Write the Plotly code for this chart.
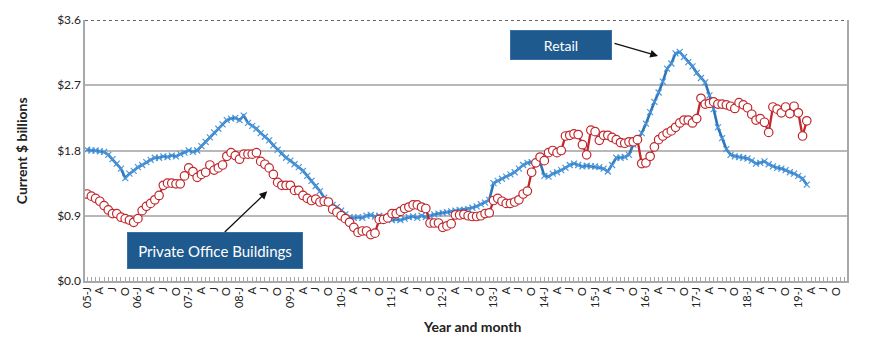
import plotly.graph_objects as go

# ---- data (US$ billions, monthly, Jan 2005 - Mar 2019) ----
years = list(range(2005, 2020))
quarter_letters = {0: "J", 3: "A", 6: "J", 9: "O"}

retail = [
    1.81, 1.80, 1.80, 1.79, 1.78, 1.74, 1.68, 1.62, 1.55, 1.42, 1.48, 1.52,
    1.57, 1.60, 1.64, 1.67, 1.70, 1.70, 1.72, 1.71, 1.73, 1.72, 1.75, 1.77,
    1.80, 1.78, 1.80, 1.86, 1.92, 1.98, 2.05, 2.10, 2.16, 2.22, 2.24, 2.25,
    2.22, 2.28, 2.18, 2.14, 2.10, 2.04, 1.99, 1.94, 1.87, 1.81, 1.76, 1.70,
    1.66, 1.61, 1.57, 1.52, 1.45, 1.38, 1.31, 1.24, 1.15, 1.10, 1.05, 1.02,
    0.97, 0.92, 0.88, 0.87, 0.88, 0.87, 0.90, 0.91, 0.89, 0.90, 0.88, 0.86,
    0.84, 0.85, 0.84, 0.86, 0.88, 0.89, 0.87, 0.90, 0.88, 0.90, 0.92, 0.93,
    0.94, 0.95, 0.96, 0.97, 0.98, 0.98, 0.99, 1.01, 1.03, 1.06, 1.08, 1.12,
    1.35, 1.38, 1.41, 1.44, 1.47, 1.50, 1.55, 1.60, 1.63, 1.64, 1.63, 1.64,
    1.45, 1.44, 1.48, 1.50, 1.53, 1.56, 1.60, 1.62, 1.60, 1.58, 1.59, 1.58,
    1.58, 1.57, 1.55, 1.51, 1.60, 1.70, 1.70, 1.71, 1.74, 1.88, 1.95, 2.04,
    2.17, 2.33, 2.47, 2.60, 2.75, 2.93, 3.00, 3.14, 3.16, 3.09, 3.02, 2.96,
    2.87, 2.80, 2.74, 2.56, 2.37, 2.12, 1.97, 1.82, 1.74, 1.72, 1.71, 1.70,
    1.69, 1.66, 1.62, 1.63, 1.65, 1.61, 1.58, 1.56, 1.55, 1.53, 1.50, 1.48,
    1.45, 1.41, 1.33,
]

office = [
    1.20, 1.17, 1.14, 1.10, 1.04, 0.98, 0.93, 0.93, 0.88, 0.86, 0.84, 0.81,
    0.86, 0.97, 1.03, 1.07, 1.12, 1.18, 1.32, 1.35, 1.35, 1.34, 1.34, 1.45,
    1.56, 1.51, 1.43, 1.47, 1.50, 1.60, 1.53, 1.56, 1.60, 1.72, 1.77, 1.73,
    1.68, 1.75, 1.75, 1.75, 1.77, 1.65, 1.61, 1.56, 1.47, 1.36, 1.32, 1.32,
    1.32, 1.25, 1.25, 1.18, 1.14, 1.11, 1.13, 1.09, 1.10, 1.09, 0.99, 0.95,
    0.90, 0.86, 0.81, 0.74, 0.67, 0.69, 0.69, 0.64, 0.66, 0.85, 0.85, 0.87,
    0.93, 0.93, 0.96, 1.00, 1.02, 1.05, 1.05, 1.02, 1.00, 0.80, 0.80, 0.80,
    0.74, 0.76, 0.79, 0.91, 0.91, 0.92, 0.90, 0.89, 0.89, 0.90, 0.93, 0.94,
    1.11, 1.14, 1.10, 1.07, 1.07, 1.09, 1.12, 1.20, 1.24, 1.50, 1.63, 1.71,
    1.66, 1.77, 1.80, 1.77, 1.80, 2.00, 2.01, 2.03, 2.02, 1.88, 1.74, 2.08,
    2.06, 1.94, 2.01, 2.01, 1.98, 1.95, 1.91, 1.90, 1.92, 1.92, 1.95, 1.62,
    1.63, 1.72, 1.85, 1.95, 2.00, 2.04, 2.07, 2.12, 2.18, 2.22, 2.22, 2.18,
    2.24, 2.52, 2.44, 2.45, 2.47, 2.44, 2.44, 2.43, 2.41, 2.38, 2.46, 2.43,
    2.39, 2.30, 2.22, 2.24, 2.19, 2.05, 2.40, 2.37, 2.32, 2.40, 2.31, 2.41,
    2.32, 2.00, 2.21,
]

y_ticks = [0.0, 0.9, 1.8, 2.7, 3.6]
y_tick_text = ["$0.0", "$0.9", "$1.8", "$2.7", "$3.6"]

# month tick labels
tick_vals, tick_text = [], []
for yi, yr in enumerate(years):
    for m in range(12):
        tick_vals.append(yi * 12 + m)
        if m == 0:
            tick_text.append(f"{yr % 100:02d}-J")
        else:
            tick_text.append(quarter_letters.get(m, ""))

x_retail = list(range(len(retail)))
x_office = list(range(len(office)))

FONT = "Lato, 'DejaVu Sans', sans-serif"
BOX = "#1f5a8f"

fig = go.Figure()
fig.add_trace(go.Scatter(
    x=x_retail, y=retail, mode="lines+markers", name="Retail",
    line=dict(color="#2f74b8", width=2.6),
    marker=dict(symbol="x-thin", size=6, line=dict(color="#4b97dc", width=1.2)),
))
fig.add_trace(go.Scatter(
    x=x_office, y=office, mode="lines+markers", name="Private Office Buildings",
    line=dict(color="#c0282d", width=2.3),
    marker=dict(symbol="circle", size=8.5, color="white",
                line=dict(color="#c0282d", width=1.2)),
))

fig.update_layout(
    width=870, height=349,
    margin=dict(l=85, r=23, t=14, b=68),
    paper_bgcolor="white", plot_bgcolor="white",
    showlegend=False,
    font=dict(family=FONT, color="#222"),
    xaxis=dict(
        range=[-0.5, 179.5], tickmode="array", tickvals=tick_vals, ticktext=tick_text,
        tickangle=-90, tickfont=dict(size=11, color="#222"),
        ticks="inside", ticklen=4, tickcolor="#a8a8a8", tickwidth=1,
        showgrid=False, showline=True, linecolor="#a8a8a8", linewidth=1.5,
        zeroline=False,
    ),
    yaxis=dict(
        range=[0, 3.6], tickmode="array", tickvals=y_ticks, ticktext=y_tick_text,
        tickfont=dict(size=12, color="#222"),
        showgrid=True, gridcolor="#b8b8b8", gridwidth=1.5,
        showline=True, linecolor="#a8a8a8", linewidth=1.5, mirror=True,
        zeroline=False, ticks="",
    ),
    shapes=[
        dict(type="line", xref="paper", yref="y", x0=0, x1=1, y0=3.6, y1=3.6,
             line=dict(color="#333", width=1.3, dash="dot")),
    ],
    annotations=[
        dict(text="<b>Current $ billions</b>", xref="paper", yref="paper",
             x=-0.083, y=0.5, textangle=-90, showarrow=False,
             font=dict(size=14, color="#222"), xanchor="center", yanchor="middle"),
        dict(text="<b>Year and month</b>", xref="paper", yref="paper",
             x=0.508, y=-0.176, showarrow=False,
             font=dict(size=14, color="#222"), xanchor="center", yanchor="middle"),
        # Retail label box
        dict(text="Retail", xref="paper", yref="paper", x=0.6247, y=0.9045,
             showarrow=False, bgcolor=BOX, bordercolor="#3a6fa3", borderwidth=1,
             width=98, height=26, borderpad=1,
             font=dict(size=14, color="white"), xanchor="center", yanchor="middle"),
        dict(text="", xref="paper", yref="paper", x=0.752, y=0.8625,
             showarrow=True, ax=-45, ay=-13, arrowhead=2, arrowsize=1.2,
             arrowwidth=1.3, arrowcolor="#111"),
        # Office label box
        dict(text="Private Office Buildings", xref="paper", yref="paper",
             x=0.1702, y=0.1161, showarrow=False, bgcolor=BOX,
             bordercolor="#3a6fa3", borderwidth=1, width=172, height=33, borderpad=1,
             font=dict(size=15, color="white"), xanchor="center", yanchor="middle"),
        dict(text="", xref="paper", yref="paper", x=0.2392, y=0.3434,
             showarrow=True, ax=-44, ay=42, arrowhead=2, arrowsize=1.2,
             arrowwidth=1.3, arrowcolor="#111"),
    ],
)

fig.write_html("out.html")
